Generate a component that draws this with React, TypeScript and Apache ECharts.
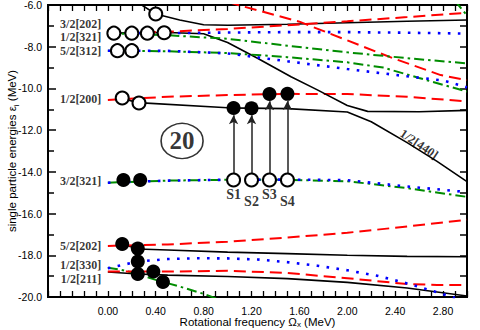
import React, { useEffect, useRef } from "react";
import * as echarts from "echarts";

// ---- data (x = rotational frequency MeV, y = energy MeV) ----
const blackTop = [[0.2, -5.7], [0.4, -6.43], [0.6, -6.72], [0.8, -6.95], [1.0, -6.97], [1.5, -6.92], [2.0, -6.85], [2.5, -6.78], [3.0, -6.72]];
const redFallTop = [[1.0, -5.85], [1.12, -6.05], [1.6, -6.8], [2.1, -7.92], [2.38, -8.55], [2.78, -9.36], [3.0, -9.6]];
const redRise321 = [[0, -7.35], [0.5, -7.28], [1.0, -7.15], [1.5, -6.97], [2.0, -6.78], [2.5, -6.58], [3.0, -6.37]];
const blueFlat321 = [[0, -7.35], [0.5, -7.35], [1.0, -7.32], [1.5, -7.3], [2.0, -7.3], [2.5, -7.33], [3.0, -7.37]];
const green321 = [[0, -7.35], [0.5, -7.45], [1.0, -7.62], [1.5, -7.95], [2.0, -8.27], [2.5, -8.55], [3.0, -8.8]];
const black440 = [[0, -7.35], [0.5, -7.32], [0.8, -7.38], [1.0, -7.8], [1.25, -8.55], [1.53, -9.44], [1.75, -10.07], [2.0, -10.82], [2.17, -11.1], [2.6, -11.12], [3.0, -11.05]];
const black200 = [[0.1, -10.45], [0.25, -10.68], [1.0, -10.93], [1.5, -10.97], [2.0, -11.13], [2.2, -11.6], [2.5, -12.6], [2.75, -13.5], [3.0, -14.47]];
const red200 = [[0, -10.55], [0.5, -10.4], [1.0, -10.32], [1.5, -10.26], [2.0, -10.27], [2.5, -10.4], [3.0, -10.62]];
const blue312 = [[0, -8.19], [0.5, -8.2], [1.0, -8.32], [1.5, -8.7], [2.0, -9.07], [2.5, -9.42], [2.8, -9.62], [3.0, -9.95]];
const green312 = [[0, -8.19], [0.5, -8.22], [1.0, -8.3], [1.5, -8.5], [2.0, -8.75], [2.3, -9.0], [2.6, -9.5], [3.0, -10.15]];
const greenCorner = [[2.9, -5.8], [3.0, -6.5]];
const blue321b = [[0, -14.52], [0.5, -14.42], [1.0, -14.38], [1.5, -14.37], [2.0, -14.4], [2.5, -14.7], [3.0, -14.97]];
const green321b = [[0, -14.52], [0.5, -14.42], [1.0, -14.38], [1.5, -14.38], [2.0, -14.45], [2.5, -14.78], [3.0, -15.2]];
const red202 = [[0, -17.55], [0.5, -17.48], [1.0, -17.35], [1.5, -17.15], [2.0, -16.92], [2.5, -16.62], [3.0, -16.3]];
const black202 = [[0.12, -17.46], [0.25, -17.7], [0.5, -17.75], [1.0, -17.85], [1.5, -17.92], [2.0, -18.0], [2.5, -18.05], [3.0, -18.07]];
const blue330 = [[0, -18.62], [0.25, -18.3], [0.5, -18.18], [0.75, -18.14], [1.0, -18.15], [1.25, -18.2], [1.5, -18.33], [1.75, -18.5], [2.0, -18.72], [2.25, -18.98], [2.5, -19.35], [2.75, -19.77], [2.9, -20.05]];
const red211 = [[0, -18.78], [0.5, -18.78], [1.0, -18.74], [1.5, -18.85], [2.0, -19.1], [2.5, -19.38], [2.75, -19.42], [3.0, -19.42]];
const black211 = [[0, -18.8], [0.25, -18.9], [0.5, -18.95], [1.0, -19.02], [1.5, -19.12], [2.0, -19.3], [2.5, -19.57], [3.0, -19.95]];
const green330 = [[0, -18.6], [0.1, -18.68], [0.25, -18.9], [0.4, -19.18], [0.6, -19.5], [0.8, -19.85], [0.92, -20.1]];

const openCircles = [[0.4, -6.43], [0.05, -7.35], [0.2, -7.35], [0.33, -7.35], [0.47, -7.33], [0.08, -8.19], [0.2, -8.19], [0.12, -10.46], [0.26, -10.7], [1.05, -14.39], [1.2, -14.39], [1.35, -14.39], [1.5, -14.39]];
const filledCircles = [[0.13, -14.39], [0.27, -14.39], [1.05, -10.94], [1.2, -10.95], [1.35, -10.27], [1.5, -10.26], [0.12, -17.46], [0.25, -17.68], [0.25, -18.3], [0.25, -18.9], [0.38, -18.78], [0.46, -19.28]];

const arrowX = [1.05, 1.2, 1.35, 1.5];
const arrowFrom = [-14.1, -14.1, -14.1, -14.1];
const arrowTo = [-11.28, -11.29, -10.61, -10.6];

const stateNames = ["3/2[202]", "1/2[321]", "5/2[312]", "1/2[200]", "3/2[321]", "5/2[202]", "1/2[330]", "1/2[211]"];
const stateY = [-6.91, -7.55, -8.19, -10.5, -14.45, -17.55, -18.48, -19.13];
const stateX = -0.05;

const sNames = ["S1", "S2", "S3", "S4"];
const sY = [-15.1, -15.42, -15.1, -15.42];

const label440 = { name: "1/2[440]", x: 2.6, y: -12.68 };
const magic = { name: "20", x: 0.62, y: -12.52 };

const xLabelValues = [0, 0.4, 0.8, 1.2, 1.6, 2.0, 2.4, 2.8];

const RED = "#ff0000";
const BLUE = "#0000ff";
const GREEN = "#008c00";
const BLACK = "#000000";

function lineSeries(data: number[][], kind: string) {
  let lineStyle: any;
  if (kind === "black") lineStyle = { color: BLACK, width: 1.6, type: "solid" };
  else if (kind === "red") lineStyle = { color: RED, width: 2, type: [12, 6] };
  else if (kind === "blue") lineStyle = { color: BLUE, width: 2.6, type: [2.6, 7.4] };
  else lineStyle = { color: GREEN, width: 2, type: [10, 4, 2.5, 4] };
  return {
    type: "line",
    data,
    showSymbol: false,
    symbol: "none",
    lineStyle,
    silent: true,
    clip: true,
    z: 2,
  };
}

function noSplit() {
  return {
    splitLine: { show: false },
    minorSplitLine: { show: false },
    splitArea: { show: false },
  };
}

function axisLine() {
  return { show: true, onZero: false, lineStyle: { color: BLACK, width: 2 } };
}

export default function App() {
  const ref = useRef<HTMLDivElement>(null);
  useEffect(() => {
    if (!ref.current) return;
    const chart = echarts.init(ref.current, undefined, { renderer: "svg" });
    const serif = "'Liberation Serif', 'Times New Roman', serif";
    const sans = "'Liberation Sans', Arial, sans-serif";
    const xNameRich = {
      a: { fontFamily: sans, fontSize: 11.5, color: BLACK, lineHeight: 12, verticalAlign: "middle" },
      s: { fontFamily: sans, fontSize: 8, color: BLACK, lineHeight: 12, verticalAlign: "bottom" },
    };
    const yNameRich = {
      a: { fontFamily: sans, fontSize: 11.5, color: BLACK, lineHeight: 16, verticalAlign: "middle" },
      s: { fontFamily: sans, fontSize: 8, color: BLACK, lineHeight: 16, verticalAlign: "bottom" },
    };
    const option: any = {
      animation: false,
      backgroundColor: "#fff",
      grid: {
        left: 48, right: 13, top: 5, bottom: 33, containLabel: false, outerBoundsMode: "none",
        show: true, borderColor: BLACK, borderWidth: 2, backgroundColor: "transparent",
      },
      xAxis: [
        {
          type: "value", min: -0.5, max: 3.0, interval: 0.1, position: "bottom",
          axisLine: axisLine(),
          axisTick: { show: true, inside: true, length: 6, lineStyle: { color: BLACK, width: 1.3 } },
          ...noSplit(),
          axisLabel: {
            show: true, margin: 8, fontFamily: sans, fontSize: 10.5, color: BLACK,
            formatter: (v: number) => {
              const k = Math.round(v * 10);
              return xLabelValues.some((t) => Math.round(t * 10) === k) ? (k / 10).toFixed(2) : "";
            },
          },
          name: "{a|Rotational frequency Ω}{s|x}{a| (MeV)}",
          nameLocation: "middle", nameGap: 19, nameMoveOverlap: false,
          nameTextStyle: { rich: xNameRich },
        },
        {
          type: "value", min: -0.5, max: 3.0, interval: 0.1, position: "top",
          axisLine: axisLine(),
          axisTick: { show: true, inside: true, length: 6, lineStyle: { color: BLACK, width: 1.3 } },
          axisLabel: { show: false },
          ...noSplit(),
        },
      ],
      yAxis: [
        {
          type: "value", min: -20, max: -6, interval: 2, position: "left",
          axisLine: axisLine(),
          axisTick: { show: true, inside: true, length: 8, lineStyle: { color: BLACK, width: 1.5 } },
          minorTick: { show: true, splitNumber: 2, length: 6, lineStyle: { color: BLACK, width: 1.5 } },
          ...noSplit(),
          axisLabel: { margin: 6, fontFamily: sans, fontSize: 10.5, color: BLACK, formatter: (v: number) => v.toFixed(1) },
          name: "{a|single particle energies ε}{s|i}{a| (MeV)}",
          nameLocation: "middle", nameGap: 28, nameRotate: 90, nameMoveOverlap: false,
          nameTextStyle: { rich: yNameRich },
        },
        {
          type: "value", min: -20, max: -6, interval: 1, position: "right",
          axisLine: axisLine(),
          axisTick: { show: true, inside: true, length: 7, lineStyle: { color: BLACK, width: 1.5 } },
          axisLabel: { show: false },
          ...noSplit(),
        },
      ],
      series: [
        lineSeries(red200, "red"),
        lineSeries(black200, "black"),
        lineSeries(black440, "black"),
        lineSeries(blackTop, "black"),
        lineSeries(redFallTop, "red"),
        lineSeries(green321, "green"),
        lineSeries(blueFlat321, "blue"),
        lineSeries(redRise321, "red"),
        lineSeries(green312, "green"),
        lineSeries(blue312, "blue"),
        lineSeries(greenCorner, "green"),
        lineSeries(green321b, "green"),
        lineSeries(blue321b, "blue"),
        lineSeries(black202, "black"),
        lineSeries(red202, "red"),
        lineSeries(black211, "black"),
        lineSeries(green330, "green"),
        lineSeries(red211, "red"),
        lineSeries(blue330, "blue"),
        {
          type: "scatter",
          data: [],
          silent: true,
          markLine: {
            silent: true,
            symbol: ["none", "arrow"],
            symbolSize: [7, 9],
            label: { show: false },
            lineStyle: { color: "#222", width: 1.5, type: "solid" },
            data: arrowX.map((x, i) => [{ coord: [x, arrowFrom[i]] }, { coord: [x, arrowTo[i]] }]),
          },
          z: 3,
        },
        {
          type: "scatter", data: openCircles, symbol: "circle", symbolSize: 13, silent: true, z: 5,
          itemStyle: { color: "#fff", borderColor: BLACK, borderWidth: 2, opacity: 1 },
        },
        {
          type: "scatter", data: filledCircles, symbol: "circle", symbolSize: 14, silent: true, z: 5,
          itemStyle: { color: BLACK, opacity: 1 },
        },
        {
          type: "scatter", symbolSize: 1, silent: true, z: 6,
          itemStyle: { color: "rgba(0,0,0,0)" },
          data: stateNames.map((n, i) => ({ name: n, value: [stateX, stateY[i]] })),
          label: { show: true, position: "left", distance: 0, formatter: "{b}", fontFamily: serif, fontWeight: "bold", fontSize: 12, color: BLACK },
        },
        {
          type: "scatter", symbolSize: 1, silent: true, z: 6,
          itemStyle: { color: "rgba(0,0,0,0)" },
          data: sNames.map((n, i) => ({ name: n, value: [arrowX[i], sY[i]] })),
          label: { show: true, position: "inside", formatter: "{b}", fontFamily: serif, fontWeight: "bold", fontSize: 14, color: BLACK },
        },
        {
          type: "scatter", symbolSize: 1, silent: true, z: 6,
          itemStyle: { color: "rgba(0,0,0,0)" },
          data: [{ name: label440.name, value: [label440.x, label440.y] }],
          label: { show: true, position: "inside", rotate: -34, formatter: "{b}", fontFamily: serif, fontWeight: "bold", fontSize: 12.5, color: BLACK },
        },
        {
          type: "scatter", symbol: "circle", symbolSize: [42, 35], silent: true, z: 6,
          itemStyle: { color: "rgba(255,255,255,0)", borderColor: BLACK, borderWidth: 1.5 },
          data: [{ name: magic.name, value: [magic.x, magic.y] }],
          label: { show: true, position: "inside", formatter: "{b}", fontFamily: serif, fontWeight: "bold", fontSize: 25, color: BLACK },
        },
      ],
    };
    chart.setOption(option);
    return () => chart.dispose();
  }, []);
  return <div ref={ref} style={{ position: "fixed", left: 0, top: 0, width: 480, height: 330, background: "#fff" }} />;
}
